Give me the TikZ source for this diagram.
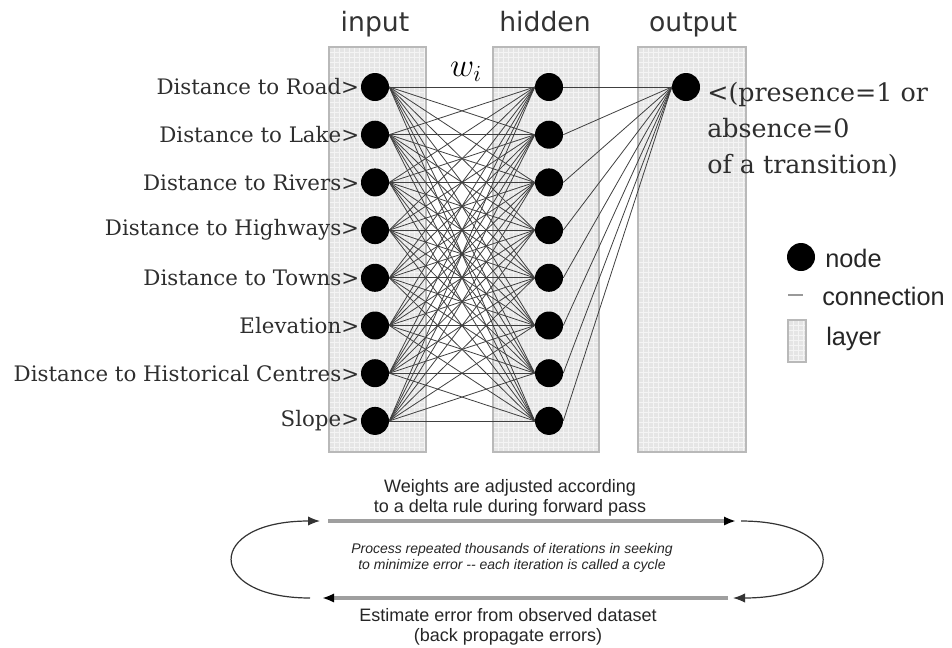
\documentclass[tikz,border=0pt]{standalone}
\usepackage{fontspec}
\setmainfont{DejaVu Serif}
\newfontfamily\titlefont{DejaVu Sans}
\newfontfamily\notefont{Liberation Sans}
\usetikzlibrary{arrows.meta}
\newcommand\layerbox[4]{% left, top, right, bottom
\fill[gray!20] (#1,#2) rectangle (#3,#4);
\begin{scope}
\clip (#1,#2) rectangle (#3,#4);
\foreach \k in {0,5,...,115} \draw[white!55!gray!20, line width=0.3pt] ({#1+\k},#2) -- ({#1+\k},#4);
\foreach \k in {0,5,...,410} \draw[white!55!gray!20, line width=0.3pt] (#1,{#2+\k}) -- (#3,{#2+\k});
\end{scope}
\draw[gray!55, line width=0.8pt] (#1,#2) rectangle (#3,#4);}

\tikzset{
  neuron/.style={circle, fill=black, minimum size=21pt, inner sep=0pt},
  synapse/.style={black!75, line width=0.6pt},
  inlabel/.style={font=\fontsize{16}{19}\selectfont, text=black!82, inner sep=1pt},
  layertitle/.style={font=\titlefont\fontsize{20}{23}\selectfont, text=black!80, anchor=base},
  legendtext/.style={font=\notefont\fontsize{19}{22}\selectfont, text=black!85, anchor=west, inner sep=0pt},
  passtext/.style={font=\notefont\fontsize{13.5}{15}\selectfont, text=black!85, align=center},
  cycletext/.style={font=\notefont\itshape\fontsize{10.5}{11.5}\selectfont, text=black!85, align=center},
  passarrow/.style={gray!75, line width=2.6pt, -{Latex[black, length=9pt, width=7pt]}},
  looparrow/.style={black!80, line width=0.9pt, -{Latex[length=9pt, width=7pt]}}
}

\begin{document}
\begin{tikzpicture}[x=0.75pt,y=-0.75pt]
  \useasboundingbox (0,0) rectangle (952,647);

  % layers
  \layerbox{329}{47}{426}{452}
  \layerbox{493}{47}{599}{452}
  \layerbox{638}{47}{746}{452}

  \node[layertitle] (t-in) at (375,31) {input};
  \node[layertitle] (t-hid) at (545,31) {hidden};
  \node[layertitle] (t-out) at (693,31) {output};

  % neurons
  \foreach \lab [count=\i] in {Distance to Road, Distance to Lake, Distance to Rivers,
      Distance to Highways, Distance to Towns, Elevation,
      Distance to Historical Centres, Slope} {
    \node[neuron] (in-\i) at (375,{87+(\i-1)*47.7}) {};
    \node[neuron] (hid-\i) at (549,{87+(\i-1)*47.7}) {};
    \node[inlabel, anchor=east] (lab-\i) at (in-\i.west) {\lab>};
  }
  \node[neuron] (out) at (686,87) {};

  % connections
  \foreach \i in {1,...,8} {
    \foreach \j in {1,...,8}
      \draw[synapse] (in-\i.east) -- (hid-\j.west);
    \draw[synapse] (hid-\i.east) -- (out.west);
  }

  \node (wi) at (466,72) {\fontsize{27}{29}\selectfont$w_i$};
  \node[font=\fontsize{19}{27}\selectfont, text=black!82, align=left,
        anchor=north west, inner sep=0pt] (out-lab) at (707,82)
        {<(presence=1 or\\absence=0\\of a transition)};

  % legend
  \node[circle, fill=black, minimum size=21pt, inner sep=0pt] (leg-node) at (801,257) {};
  \node[legendtext] (leg-node-t) at (825,258) {node};
  \coordinate (leg-c1) at (788,295);
  \coordinate (leg-c2) at (803,295);
  \draw[gray!80, line width=1.4pt] (leg-c1) -- (leg-c2);
  \node[legendtext] (leg-con-t) at (822,296) {connection};
  \layerbox{788}{320}{806}{362}
  \node[legendtext] (leg-lay-t) at (826,339) {layer};

  % training cycle
  \coordinate (fwd-a) at (328,521);
  \coordinate (fwd-b) at (736,521);
  \coordinate (back-a) at (728,598);
  \coordinate (back-b) at (322,598);
  \coordinate (loop-r) at (741,521);
  \coordinate (loop-rb) at (733,598);
  \coordinate (loop-l) at (310,598);
  \coordinate (loop-lt) at (320,521);

  \node[passtext] (fwd-t) at (510,498) {Weights are adjusted according\\to a delta rule during forward pass};
  \node[cycletext] (cyc-t) at (512,558) {Process repeated thousands of iterations in seeking\\to minimize error -- each iteration is called a cycle};
  \node[passtext] (back-t) at (508,627) {Estimate error from observed dataset\\(back propagate errors)};

  \draw[passarrow] (fwd-a) -- (fwd-b);
  \draw[passarrow] (back-a) -- (back-b);
  \draw[looparrow] (loop-r) .. controls (850,521) and (850,598) .. (loop-rb);
  \draw[looparrow] (loop-l) .. controls (205,598) and (205,521) .. (loop-lt);
\end{tikzpicture}
\end{document}
